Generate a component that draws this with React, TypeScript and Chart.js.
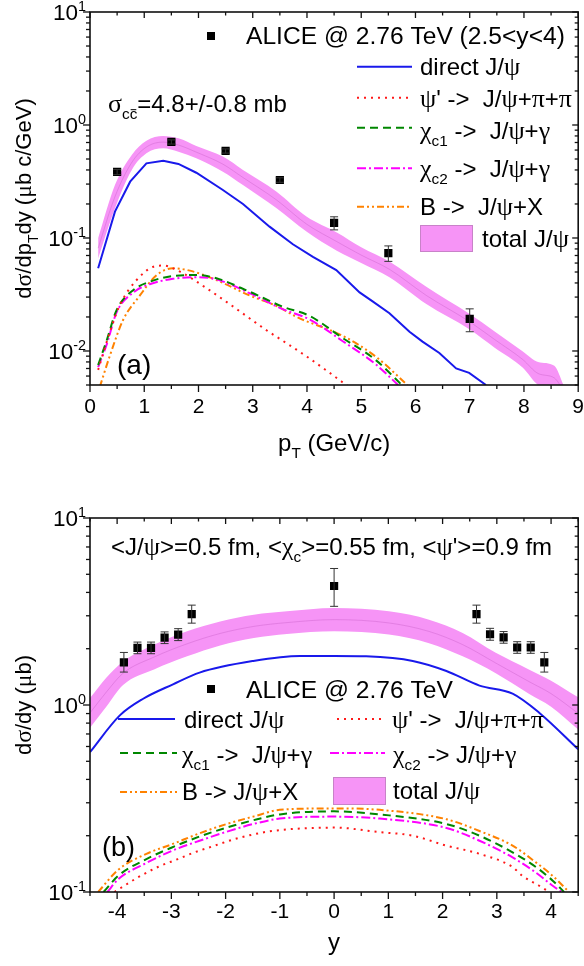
import React, { useEffect, useRef } from 'react';
import { Chart, registerables } from 'chart.js';

Chart.register(...registerables);

const FONT = '"Liberation Sans", Arial, Helvetica, sans-serif';
const GREEK_FONT = '"Liberation Serif", "DejaVu Serif", serif';

// ================= Panel (a): dσ/dpT dy vs pT =================
const aXTicks = [0, 1, 2, 3, 4, 5, 6, 7, 8, 9];
const aYExp = [-2, -1, 0, 1];
const aXMin = 0, aXMax = 9, aYMin = 0.005, aYMax = 10;

const aAliceX = [0.5, 1.5, 2.5, 3.5, 4.5, 5.5, 7.0];
const aAliceY = [0.384, 0.708, 0.589, 0.326, 0.136, 0.0736, 0.0192];
const aAliceErr = [0.02, 0.03, 0.025, 0.015, 0.018, 0.0115, 0.0044];

const aBandX = [0.15, 0.46, 0.77, 1.04, 1.35, 1.63, 1.96, 2.45, 2.82, 3.44, 3.99, 4.55, 5.0, 5.52, 6.2, 7.0, 7.46, 7.98, 8.26, 8.56, 8.73];
const aBandHi = [0.100, 0.294, 0.543, 0.726, 0.80, 0.762, 0.652, 0.525, 0.40, 0.257, 0.155, 0.112, 0.083, 0.062, 0.037, 0.0212, 0.0149, 0.0099, 0.0080, 0.0074, 0.0050];
const aBandLo = [0.066, 0.183, 0.40, 0.561, 0.622, 0.58, 0.507, 0.386, 0.294, 0.183, 0.114, 0.077, 0.060, 0.045, 0.026, 0.0155, 0.0107, 0.0071, 0.0050, 0.0045, 0.0040];

const aDirX = [0.15, 0.46, 0.74, 1.04, 1.35, 1.63, 1.96, 2.45, 2.82, 3.31, 3.74, 4.11, 4.54, 4.97, 5.21, 5.52, 5.89, 6.13, 6.44, 6.75, 6.99, 7.3];
const aDirY = [0.054, 0.171, 0.315, 0.458, 0.483, 0.452, 0.378, 0.266, 0.20, 0.126, 0.088, 0.068, 0.052, 0.033, 0.0275, 0.0216, 0.0148, 0.0121, 0.0096, 0.0070, 0.0064, 0.005];

const aPsiX = [0.15, 0.36, 0.55, 0.86, 1.17, 1.35, 1.66, 2.15, 2.64, 3.25, 3.5, 4.0, 4.4, 4.75];
const aPsiY = [0.0068, 0.0144, 0.0255, 0.0425, 0.0557, 0.057, 0.0503, 0.0359, 0.0247, 0.0153, 0.0128, 0.0089, 0.0065, 0.0049];

const aChi1X = [0.15, 0.31, 0.49, 0.8, 1.1, 1.53, 1.96, 2.33, 2.94, 3.55, 4.05, 4.66, 5.27, 5.75];
const aChi1Y = [0.0075, 0.0125, 0.023, 0.0347, 0.041, 0.0461, 0.047, 0.044, 0.0335, 0.0247, 0.0204, 0.013, 0.0083, 0.005];

const aChi2X = [0.15, 0.31, 0.49, 0.8, 1.1, 1.53, 1.96, 2.33, 2.94, 3.55, 4.05, 4.66, 5.27, 5.68];
const aChi2Y = [0.0072, 0.0115, 0.022, 0.033, 0.039, 0.0435, 0.045, 0.043, 0.0325, 0.0235, 0.019, 0.0122, 0.0076, 0.005];

const aBX = [0.18, 0.36, 0.61, 0.92, 1.23, 1.53, 1.84, 2.33, 2.94, 3.44, 3.8, 4.66, 5.27, 5.85];
const aBY = [0.0048, 0.0089, 0.0188, 0.031, 0.047, 0.054, 0.0514, 0.0425, 0.031, 0.025, 0.0201, 0.0136, 0.0089, 0.005];

// ================= Panel (b): dσ/dy vs y =================
const bXTicks = [-4, -3, -2, -1, 0, 1, 2, 3, 4];
const bYExp = [-1, 0, 1];
const bXMin = -4.5, bXMax = 4.5, bYMin = 0.1, bYMax = 10;

const bAliceX = [-3.875, -3.625, -3.375, -3.125, -2.875, -2.625, 0, 2.625, 2.875, 3.125, 3.375, 3.625, 3.875];
const bAliceY = [1.69, 2.02, 2.02, 2.29, 2.38, 3.06, 4.33, 3.06, 2.39, 2.30, 2.03, 2.03, 1.69];
const bAliceErrUp = [0.22, 0.15, 0.15, 0.17, 0.18, 0.36, 1.04, 0.36, 0.18, 0.17, 0.15, 0.15, 0.22];
const bAliceErrDn = [0.19, 0.14, 0.14, 0.16, 0.17, 0.32, 0.96, 0.32, 0.17, 0.16, 0.14, 0.14, 0.19];

const bBandX = [-4.5, -4.2, -3.89, -3.32, -2.71, -2.1, -1.48, -0.87, 0, 1.01, 1.75, 2.37, 2.98, 3.59, 4.0, 4.5];
const bBandHi = [1.09, 1.40, 1.71, 2.10, 2.48, 2.80, 3.04, 3.17, 3.30, 3.17, 2.86, 2.43, 1.90, 1.55, 1.35, 1.10];
const bBandLo = [0.755, 0.98, 1.28, 1.55, 1.82, 2.08, 2.28, 2.40, 2.48, 2.38, 2.14, 1.82, 1.48, 1.15, 0.98, 0.74];

const bDirX = [-4.5, -3.95, -3.52, -2.97, -2.48, -1.49, -0.63, 0, 0.59, 1.45, 2.07, 2.68, 3.29, 3.78, 4.5];
const bDirY = [0.56, 0.88, 1.08, 1.29, 1.49, 1.72, 1.83, 1.83, 1.82, 1.72, 1.52, 1.27, 1.15, 0.91, 0.58];

const bBX = [-4.35, -3.98, -3.46, -2.99, -2.48, -1.98, -1.49, -1.0, 0, 0.84, 2.07, 2.68, 3.29, 3.72, 4.03, 4.33];
const bBY = [0.1, 0.1315, 0.16, 0.18, 0.206, 0.231, 0.253, 0.275, 0.28, 0.275, 0.245, 0.212, 0.177, 0.144, 0.122, 0.1];

const bChi1X = [-4.25, -3.98, -3.46, -2.99, -2.48, -1.98, -1.49, -1.0, 0, 0.84, 2.07, 2.68, 3.29, 3.72, 4.03, 4.24];
const bChi1Y = [0.1, 0.122, 0.15, 0.173, 0.198, 0.221, 0.242, 0.26, 0.27, 0.26, 0.231, 0.20, 0.163, 0.136, 0.115, 0.1];

const bChi2X = [-4.18, -3.98, -3.46, -2.99, -2.48, -1.98, -1.49, -1.0, 0, 0.84, 2.07, 2.68, 3.29, 3.72, 4.03, 4.2];
const bChi2Y = [0.1, 0.117, 0.143, 0.166, 0.188, 0.21, 0.231, 0.247, 0.253, 0.247, 0.22, 0.188, 0.153, 0.127, 0.108, 0.1];

const bPsiX = [-4.05, -3.61, -3.25, -2.88, -2.57, -2.2, -1.83, -1.46, -1.15, 0, 0.84, 1.45, 2.07, 2.68, 3.29, 3.47, 3.78, 3.97];
const bPsiY = [0.1, 0.12, 0.136, 0.150, 0.163, 0.177, 0.192, 0.204, 0.212, 0.221, 0.209, 0.2, 0.177, 0.16, 0.136, 0.122, 0.108, 0.1];

// ================= styles =================
const COL = {
  direct: 'rgb(25,25,235)',
  psi: 'rgb(255,25,25)',
  chi1: 'rgb(0,135,0)',
  chi2: 'rgb(255,0,255)',
  b: 'rgb(255,130,0)',
  band: 'rgb(246,148,246)',
  bandLine: 'rgba(205,100,205,0.45)',
};
const DASH: Record<string, number[]> = {
  direct: [],
  psi: [2, 5],
  chi1: [8, 5],
  chi2: [9, 3, 2, 3],
  b: [7, 3, 2, 3, 2, 3],
};

type Seg = { t: string; k?: 'sub' | 'sup'; over?: boolean };

function P(s: string): Seg[] {
  const out: Seg[] = [];
  let i = 0;
  let buf = '';
  while (i < s.length) {
    const c = s[i];
    if ((c === '_' || c === '^' || c === '~') && s[i + 1] === '{') {
      if (buf) { out.push({ t: buf }); buf = ''; }
      const j = s.indexOf('}', i);
      const inner = s.slice(i + 2, j);
      if (c === '_') out.push({ t: inner, k: 'sub' });
      else if (c === '^') out.push({ t: inner, k: 'sup' });
      else out.push({ t: inner, k: 'sub', over: true });
      i = j + 1;
    } else {
      buf += c;
      i++;
    }
  }
  if (buf) out.push({ t: buf });
  return out;
}

const isGreek = (ch: string) => /[\u0370-\u03FF]/.test(ch);

function runs(t: string): { t: string; g: boolean }[] {
  const out: { t: string; g: boolean }[] = [];
  for (const ch of t) {
    const g = isGreek(ch);
    if (out.length && out[out.length - 1].g === g) out[out.length - 1].t += ch;
    else out.push({ t: ch, g });
  }
  return out;
}

function runFont(size: number, k: string | undefined, g: boolean) {
  const s = k ? size * 0.64 : size;
  return g ? `${s * 1.08}px ${GREEK_FONT}` : `${s}px ${FONT}`;
}

function segWidth(ctx: CanvasRenderingContext2D, s: Seg, size: number) {
  let w = 0;
  for (const r of runs(s.t)) {
    ctx.font = runFont(size, s.k, r.g);
    w += ctx.measureText(r.t).width;
  }
  return w;
}

function drawRich(ctx: CanvasRenderingContext2D, text: string, x: number, baseline: number, size: number, align: 'left' | 'center' | 'right' = 'left') {
  const segs = P(text);
  let w = 0;
  for (const s of segs) w += segWidth(ctx, s, size);
  let cx = x;
  if (align === 'center') cx -= w / 2;
  else if (align === 'right') cx -= w;
  ctx.textAlign = 'left';
  ctx.textBaseline = 'alphabetic';
  ctx.fillStyle = '#000';
  for (const s of segs) {
    const dy = s.k === 'sub' ? size * 0.3 : s.k === 'sup' ? -size * 0.42 : 0;
    const x0 = cx;
    for (const r of runs(s.t)) {
      ctx.font = runFont(size, s.k, r.g);
      ctx.fillText(r.t, cx, baseline + dy);
      cx += ctx.measureText(r.t).width;
    }
    if (s.over) {
      const yy = baseline + dy - size * 0.64 * 0.62;
      ctx.save();
      ctx.strokeStyle = '#000';
      ctx.lineWidth = 1;
      ctx.beginPath();
      ctx.moveTo(x0 + 1, yy);
      ctx.lineTo(cx - 1, yy);
      ctx.stroke();
      ctx.restore();
    }
  }
}

function seg(ctx: CanvasRenderingContext2D, x1: number, y1: number, x2: number, y2: number) {
  ctx.beginPath();
  ctx.moveTo(x1, y1);
  ctx.lineTo(x2, y2);
  ctx.stroke();
}

function minorsLinear(min: number, max: number, step: number, majorStep: number) {
  const out: number[] = [];
  for (let v = min; v <= max + 1e-9; v += step) {
    const r = v / majorStep;
    if (Math.abs(r - Math.round(r)) > 1e-6) out.push(+v.toFixed(6));
  }
  return out;
}

function drawFrame(chart: any, xMajor: number[], xMinor: number[], yMin: number, yMax: number) {
  const { ctx, chartArea: a } = chart;
  const xs = chart.scales.x;
  const ys = chart.scales.y;
  ctx.save();
  ctx.setLineDash([]);
  ctx.strokeStyle = '#111';
  ctx.lineWidth = 1.6;
  ctx.strokeRect(a.left, a.top, a.right - a.left, a.bottom - a.top);
  ctx.lineWidth = 1.3;
  for (const v of xMajor) {
    const p = xs.getPixelForValue(v);
    seg(ctx, p, a.bottom, p, a.bottom + 7);
    seg(ctx, p, a.top, p, a.top + 6);
  }
  for (const v of xMinor) {
    const p = xs.getPixelForValue(v);
    seg(ctx, p, a.bottom, p, a.bottom + 4);
    seg(ctx, p, a.top, p, a.top + 3.5);
  }
  const e0 = Math.floor(Math.log10(yMin));
  const e1 = Math.ceil(Math.log10(yMax));
  for (let e = e0; e <= e1; e++) {
    for (let m = 1; m <= 9; m++) {
      const v = m * Math.pow(10, e);
      if (v < yMin * 0.999 || v > yMax * 1.001) continue;
      const p = ys.getPixelForValue(v);
      const major = m === 1;
      seg(ctx, a.left - (major ? 7 : 4), p, a.left, p);
      seg(ctx, a.right - (major ? 6 : 3.5), p, a.right, p);
    }
  }
  ctx.restore();
}

function drawXLabels(chart: any, ticks: number[], off: number, size: number) {
  const { ctx, chartArea: a } = chart;
  const xs = chart.scales.x;
  ctx.save();
  for (const v of ticks) {
    drawRich(ctx, String(v), xs.getPixelForValue(v), a.bottom + off, size, 'center');
  }
  ctx.restore();
}

function drawYLabels(chart: any, exps: number[], size: number) {
  const { ctx, chartArea: a } = chart;
  const ys = chart.scales.y;
  ctx.save();
  for (const e of exps) {
    const p = ys.getPixelForValue(Math.pow(10, e));
    drawRich(ctx, `10^{${e}}`, a.left - 4, p + size * 0.36, size, 'right');
  }
  ctx.restore();
}

function drawErrorBars(chart: any, xs: number[], ys: number[], up: number[], dn: number[]) {
  const { ctx } = chart;
  const sx = chart.scales.x;
  const sy = chart.scales.y;
  ctx.save();
  ctx.strokeStyle = '#333';
  ctx.lineWidth = 1;
  ctx.setLineDash([]);
  for (let i = 0; i < xs.length; i++) {
    const px = sx.getPixelForValue(xs[i]);
    const p1 = sy.getPixelForValue(ys[i] + up[i]);
    const p2 = sy.getPixelForValue(ys[i] - dn[i]);
    seg(ctx, px, p1, px, p2);
    seg(ctx, px - 4, p1, px + 4, p1);
    seg(ctx, px - 4, p2, px + 4, p2);
  }
  ctx.restore();
}

function legendLine(ctx: CanvasRenderingContext2D, x1: number, x2: number, y: number, color: string, dash: number[]) {
  ctx.save();
  ctx.strokeStyle = color;
  ctx.lineWidth = 2;
  ctx.setLineDash(dash);
  seg(ctx, x1, y, x2, y);
  ctx.restore();
}

function legendBox(ctx: CanvasRenderingContext2D, x: number, y: number, w: number, h: number) {
  ctx.save();
  ctx.fillStyle = COL.band;
  ctx.fillRect(x, y, w, h);
  ctx.strokeStyle = 'rgb(200,130,200)';
  ctx.lineWidth = 1;
  ctx.strokeRect(x + 0.5, y + 0.5, w - 1, h - 1);
  ctx.restore();
}

function legendSquare(ctx: CanvasRenderingContext2D, x: number, y: number, s: number) {
  ctx.save();
  ctx.fillStyle = '#000';
  ctx.fillRect(x - s / 2, y - s / 2, s, s);
  ctx.restore();
}

const pts = (xs: number[], ys: number[]) => xs.map((x, i) => ({ x, y: ys[i] }));

function lineDs(xs: number[], ys: number[], key: string, smooth = true) {
  return {
    data: pts(xs, ys),
    borderColor: (COL as any)[key],
    borderDash: DASH[key],
    borderWidth: 2,
    pointRadius: 0,
    fill: false,
    cubicInterpolationMode: smooth ? 'monotone' : 'default',
    tension: 0,
  };
}

function bandDs(xs: number[], hi: number[], lo: number[]) {
  const mid = hi.map((h, i) => Math.sqrt(h * lo[i]));
  return [
    { data: pts(xs, mid), borderColor: COL.bandLine, borderWidth: 1, pointRadius: 0, fill: false, cubicInterpolationMode: 'monotone' },
    { data: pts(xs, hi), borderColor: 'rgba(0,0,0,0)', borderWidth: 0, backgroundColor: COL.band, pointRadius: 0, fill: '+1', cubicInterpolationMode: 'monotone' },
    { data: pts(xs, lo), borderColor: 'rgba(0,0,0,0)', borderWidth: 0, pointRadius: 0, fill: false, cubicInterpolationMode: 'monotone' },
  ];
}

function scatterDs(xs: number[], ys: number[]) {
  return {
    data: pts(xs, ys),
    showLine: false,
    pointStyle: 'rect',
    pointRadius: 5.8,
    pointBackgroundColor: '#000',
    pointBorderWidth: 0,
    borderColor: '#000',
    fill: false,
  };
}

function baseOptions(xMin: number, xMax: number, yMin: number, yMax: number, padTop: number, xH: number) {
  return {
    animation: false,
    responsive: false,
    events: [],
    layout: { padding: { top: padTop, right: 5, left: 0, bottom: 0 } },
    plugins: { legend: { display: false }, tooltip: { enabled: false }, title: { display: false } },
    scales: {
      x: {
        type: 'linear', min: xMin, max: xMax,
        grid: { display: false }, border: { display: false }, ticks: { display: false },
        afterFit: (s: any) => { s.height = xH; },
      },
      y: {
        type: 'logarithmic', min: yMin, max: yMax,
        grid: { display: false }, border: { display: false }, ticks: { display: false },
        afterFit: (s: any) => { s.width = 90; },
      },
    },
  };
}

const decoA = {
  id: 'decoA',
  afterDatasetsDraw(chart: any) {
    drawErrorBars(chart, aAliceX, aAliceY, aAliceErr, aAliceErr);
  },
  afterDraw(chart: any) {
    const ctx: CanvasRenderingContext2D = chart.ctx;
    const a = chart.chartArea;
    drawFrame(chart, aXTicks, minorsLinear(aXMin, aXMax, 0.5, 1), aYMin, aYMax);
    drawXLabels(chart, aXTicks, 28, 21);
    drawYLabels(chart, aYExp, 22.5);
    ctx.save();
    drawRich(ctx, 'p_{T} (GeV/c)', (a.left + a.right) / 2, 451, 24, 'center');
    ctx.translate(31, (a.top + a.bottom) / 2);
    ctx.rotate(-Math.PI / 2);
    drawRich(ctx, 'dσ/dp_{T}dy (μb c/GeV)', 0, 0, 22, 'center');
    ctx.restore();
    ctx.save();
    drawRich(ctx, 'σ_{c}~{c}=4.8+/-0.8 mb', 108, 112, 24);
    drawRich(ctx, '(a)', 117, 374, 28);
    legendSquare(ctx, 211, 36, 8);
    drawRich(ctx, 'ALICE @ 2.76 TeV (2.5<y<4)', 246, 43.5, 24.6);
    legendLine(ctx, 357, 412, 66.7, COL.direct, DASH.direct);
    drawRich(ctx, 'direct J/ψ', 420, 75, 24);
    legendLine(ctx, 357, 412, 97.7, COL.psi, DASH.psi);
    drawRich(ctx, "ψ' ->  J/ψ+π+π", 420, 107, 24);
    legendLine(ctx, 357, 412, 127.7, COL.chi1, DASH.chi1);
    drawRich(ctx, 'χ_{c1} ->  J/ψ+γ', 420, 139, 24);
    legendLine(ctx, 357, 412, 168.3, COL.chi2, DASH.chi2);
    drawRich(ctx, 'χ_{c2} ->  J/ψ+γ', 420, 176.5, 24);
    legendLine(ctx, 357, 412, 206.7, COL.b, DASH.b);
    drawRich(ctx, 'B ->  J/ψ+X', 420, 215, 24);
    legendBox(ctx, 420, 225, 53, 27);
    drawRich(ctx, 'total J/ψ', 482, 247, 24);
    ctx.restore();
  },
};

const OFF = 483;
const decoB = {
  id: 'decoB',
  afterDatasetsDraw(chart: any) {
    drawErrorBars(chart, bAliceX, bAliceY, bAliceErrUp, bAliceErrDn);
  },
  afterDraw(chart: any) {
    const ctx: CanvasRenderingContext2D = chart.ctx;
    const a = chart.chartArea;
    drawFrame(chart, bXTicks, minorsLinear(bXMin, bXMax, 0.5, 1), bYMin, bYMax);
    drawXLabels(chart, bXTicks, 26, 21);
    drawYLabels(chart, bYExp, 22.5);
    ctx.save();
    drawRich(ctx, 'y', (a.left + a.right) / 2, 950 - OFF, 24, 'center');
    ctx.translate(31, (a.top + a.bottom) / 2);
    ctx.rotate(-Math.PI / 2);
    drawRich(ctx, 'dσ/dy (μb)', 0, 0, 22, 'center');
    ctx.restore();
    ctx.save();
    drawRich(ctx, "<J/ψ>=0.5 fm, <χ_{c}>=0.55 fm, <ψ'>=0.9 fm", 111, 555 - OFF, 24);
    drawRich(ctx, '(b)', 102, 856 - OFF, 27);
    legendSquare(ctx, 211, 689 - OFF, 8);
    drawRich(ctx, 'ALICE @ 2.76 TeV', 246, 698 - OFF, 24.6);
    legendLine(ctx, 118, 175, 719 - OFF, COL.direct, DASH.direct);
    drawRich(ctx, 'direct J/ψ', 184, 728 - OFF, 24);
    legendLine(ctx, 337, 383, 719 - OFF, COL.psi, DASH.psi);
    drawRich(ctx, "ψ' ->  J/ψ+π+π", 392, 728 - OFF, 24);
    legendLine(ctx, 120, 177, 753 - OFF, COL.chi1, DASH.chi1);
    drawRich(ctx, 'χ_{c1} ->  J/ψ+γ', 182, 763 - OFF, 24);
    legendLine(ctx, 330, 385, 753 - OFF, COL.chi2, DASH.chi2);
    drawRich(ctx, 'χ_{c2} -> J/ψ+γ', 393, 763 - OFF, 24);
    legendLine(ctx, 120, 177, 792 - OFF, COL.b, DASH.b);
    drawRich(ctx, 'B -> J/ψ+X', 182, 800 - OFF, 24);
    legendBox(ctx, 333, 777 - OFF, 53, 28);
    drawRich(ctx, 'total J/ψ', 393, 799 - OFF, 24);
    ctx.restore();
  },
};

function configA(): any {
  return {
    type: 'line',
    data: {
      datasets: [
        scatterDs(aAliceX, aAliceY),
        lineDs(aDirX, aDirY, 'direct', false),
        lineDs(aPsiX, aPsiY, 'psi'),
        lineDs(aChi1X, aChi1Y, 'chi1'),
        lineDs(aChi2X, aChi2Y, 'chi2'),
        lineDs(aBX, aBY, 'b'),
        ...bandDs(aBandX, aBandHi, aBandLo),
      ],
    },
    options: baseOptions(aXMin, aXMax, aYMin, aYMax, 12, 98),
    plugins: [decoA],
  };
}

function configB(): any {
  return {
    type: 'line',
    data: {
      datasets: [
        scatterDs(bAliceX, bAliceY),
        lineDs(bDirX, bDirY, 'direct'),
        lineDs(bPsiX, bPsiY, 'psi'),
        lineDs(bChi1X, bChi1Y, 'chi1'),
        lineDs(bChi2X, bChi2Y, 'chi2'),
        lineDs(bBX, bBY, 'b'),
        ...bandDs(bBandX, bBandHi, bBandLo),
      ],
    },
    options: baseOptions(bXMin, bXMax, bYMin, bYMax, 35, 74),
    plugins: [decoB],
  };
}

export default function App() {
  const refA = useRef<HTMLCanvasElement>(null);
  const refB = useRef<HTMLCanvasElement>(null);
  useEffect(() => {
    const ca = new Chart(refA.current as HTMLCanvasElement, configA());
    const cb = new Chart(refB.current as HTMLCanvasElement, configB());
    return () => {
      ca.destroy();
      cb.destroy();
    };
  }, []);
  return (
    <div style={{ position: 'absolute', left: 0, top: 0, width: 584, height: 966, background: '#fff' }}>
      <canvas ref={refA} width={584} height={483} style={{ position: 'absolute', left: 0, top: 0, width: 584, height: 483 }} />
      <canvas ref={refB} width={584} height={483} style={{ position: 'absolute', left: 0, top: 483, width: 584, height: 483 }} />
    </div>
  );
}
